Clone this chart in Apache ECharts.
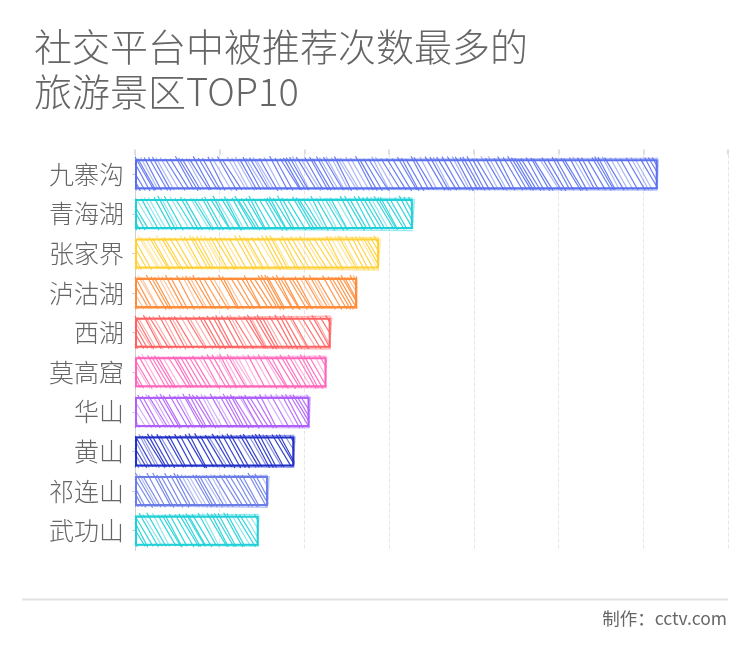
<!DOCTYPE html>
<html><head><meta charset="utf-8">
<style>html,body{margin:0;padding:0;background:#fff}#c{width:750px;height:653px}</style>
<script src="https://cdn.jsdelivr.net/npm/echarts@6/dist/echarts.min.js"></script>
</head><body><div id="c"></div>
<script>
const categories = ['九寨沟','青海湖','张家界','泸沽湖','西湖','莫高窟','华山','黄山','祁连山','武功山'];
const values = [617,328,288,262,231,226,206,188,157,146];
const colors = ['#5b70ee','#1fd0d8','#ffcf33','#ff8c3a','#ff6060','#ff66bb','#b060fa','#2030c8','#6a7de8','#1fd0d8'];
const FONT = '"Noto Sans CJK SC","Noto Sans",sans-serif';
const textColor = '#666666';
const chart = echarts.init(document.getElementById('c'), null, {renderer:'canvas'});
let seed = 7;
function rnd(){ seed = (seed*16807)%2147483647; return seed/2147483647; }
function hatch(params, api){
  const i = api.value(0);
  seed = 1000+i*7919;
  for(let n=0;n<5;n++) rnd();
  const end = api.coord([api.value(1), i]);
  const start = api.coord([0, i]);
  const h = api.size([0,1])[1]*0.765;
  const top = start[1]-h/2, bot = start[1]+h/2;
  const x0 = start[0], x1 = end[0];
  const col = api.visual('color');
  const children = [];
  let x = x0-18;
  while (x < x1) {
    const d = 17+rnd()*3;
    const yt = top-rnd()*3, yb = bot+rnd()*1.5;
    let ax=x, ay=yt, bx=x+d, by=yb;
    const slope=(by-ay)/(bx-ax);
    if (ax<x0){ay+=(x0-ax)*slope;ax=x0;}
    if (bx>x1){by-=(bx-x1)*slope;bx=x1;}
    if (bx>ax) children.push({type:'line',shape:{x1:ax,y1:ay,x2:bx,y2:by},
      style:{stroke:col,lineWidth:1.2,opacity:rnd()>0.3?0.9:0.5}});
    x += 2.5+rnd()*3.5;
  }
  // lighter second outline, slightly off the main one
  const off=[rnd()*1.5,rnd()*1.5];
  [[x0,top+off[0],x1,top-off[1]],[x0,bot-off[1],x1,bot+off[0]],[x1+off[0],top,x1-off[1],bot]].forEach(s=>{
    children.push({type:'line',shape:{x1:s[0],y1:s[1],x2:s[2],y2:s[3]},style:{stroke:col,lineWidth:1.5,opacity:0.45}});
  });
  return {type:'group',children};
}
chart.setOption({
  animation:false,
  backgroundColor:'#fff',
  title:{text:'社交平台中被推荐次数最多的\n旅游景区TOP10',left:29,top:19,
    textStyle:{fontFamily:FONT,fontSize:38,fontWeight:300,color:textColor,lineHeight:45}},
  grid:{left:135,right:22,top:154.5,height:396,containLabel:false},
  xAxis:{type:'value',position:'top',min:0,max:700,interval:100,
    axisLine:{show:false},axisLabel:{show:false},
    axisTick:{show:true,length:5,lineStyle:{color:'#d4d4d4',width:1.5}},
    splitLine:{show:true,lineStyle:{color:'#e6e6e6',type:'dashed',width:1}}},
  yAxis:{type:'category',inverse:true,data:categories,
    axisLine:{show:true,lineStyle:{color:'#d0d0d0',width:1}},
    axisTick:{show:true,length:3,alignWithLabel:true,lineStyle:{color:'#d0d0d0'}},
    axisLabel:{margin:11,fontFamily:FONT,fontSize:25,fontWeight:300,color:textColor,padding:[0,0,6,0]}},
  series:[
    {type:'bar',barWidth:30,z:3,silent:true,
     data:values.map((v,i)=>({value:v,itemStyle:{color:'rgba(255,255,255,0)',borderColor:colors[i],borderWidth:2}}))},
    {type:'custom',z:2,silent:true,renderItem:hatch,clip:false,
     encode:{x:1,y:0},
     data:values.map((v,i)=>({value:[i,v],itemStyle:{color:colors[i]}}))}
  ],
  graphic:[
    {type:'line',shape:{x1:22,y1:599.5,x2:728,y2:599.5},style:{stroke:'#e2e2e2',lineWidth:2}},
    {type:'text',right:23,top:610,style:{text:'制作：cctv.com',fontFamily:FONT,fontSize:17.5,fill:textColor}}
  ]
});
</script></body></html>
